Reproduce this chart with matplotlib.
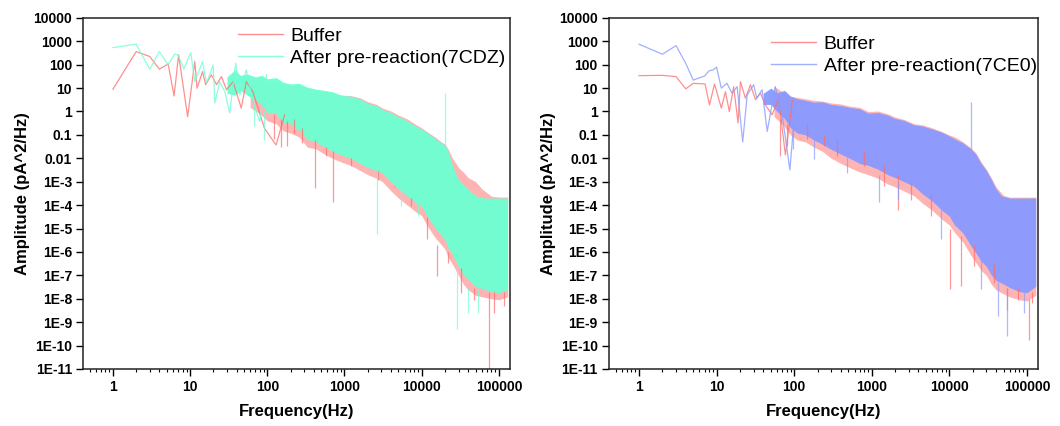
import matplotlib.pyplot as plt
from matplotlib.ticker import LogLocator, NullFormatter, FixedLocator, FixedFormatter

plt.rcParams['font.family'] = ['Liberation Sans', 'DejaVu Sans']

# ---------------- left panel : Buffer vs 7CDZ ----------------
# low frequency part, drawn as lines
buf1_line_f = [1, 2, 3, 4, 5.2, 6.2, 7.1, 9.3, 11.5, 12.3, 14.5, 15.9, 18.9, 22, 25.5,
               29.6, 36, 46, 53.5, 65, 92, 130, 168]
buf1_line_v = [8.9, 363, 224, 64, 108, 4.6, 263, 0.6, 136, 9.9, 51, 13.9, 37, 14, 31,
               8.5, 19, 1.4, 19, 7, 0.19, 0.037, 0.72]
cdz_line_f = [1, 2, 3, 4, 5.2, 6.3, 7, 8.3, 10.2, 11.5, 14.5, 16.3, 19.9, 20.9, 24.2,
              28.2, 32.6, 39, 44, 53.5, 65, 80, 98]
cdz_line_v = [537, 755, 64, 363, 98, 280, 260, 64, 330, 19, 136, 16, 98, 2.3, 19,
              7, 0.87, 117, 5.1, 60, 2.7, 0.37, 37]

# dense noise band (upper / lower envelope)
buf1_band_f = [60, 80, 100, 130, 160, 200, 260, 330, 430, 550, 700, 900, 1200, 1600, 2000,
               2600, 3100, 4000, 5000, 6500, 8500, 10000, 12000, 15000, 18000, 20000, 22000,
               25000, 30000, 35000, 40000, 50000, 60000, 80000, 100000, 130000]
buf1_band_hi = [25, 22, 18, 20, 14, 12, 13, 9.5, 8, 7, 6, 5, 4.8, 3.8, 2.6,
                2.0, 1.4, 1.05, 0.7, 0.48, 0.27, 0.2, 0.13, 0.08, 0.05, 0.04, 0.025,
                0.01, 4e-3, 2.5e-3, 1.5e-3, 1e-3, 5e-4, 2.4e-4, 2.2e-4, 2.2e-4]
buf1_band_lo = [1.5, 0.8, 0.4, 0.3, 0.15, 0.12, 0.08, 0.03, 0.025, 0.015, 0.01, 7e-3, 5e-3, 3e-3, 2e-3,
                1.4e-3, 1e-3, 4e-4, 2e-4, 1e-4, 5e-5, 3.5e-5, 1.2e-5, 4e-6, 2e-6, 1.3e-6, 6e-7,
                3e-7, 1e-7, 4e-8, 2.4e-8, 1.4e-8, 1.2e-8, 1e-8, 9e-9, 1.2e-8]

cdz_band_f = [30, 38, 45, 55, 70, 85, 100, 130, 160, 200, 260, 330, 430, 550, 700, 900, 1200,
              1600, 2000, 2600, 3100, 4000, 5000, 6500, 8500, 10000, 12000, 15000, 18000,
              20000, 22000, 25000, 30000, 35000, 41000, 50000, 65000, 80000, 100000, 130000]
cdz_band_hi = [30, 60, 35, 40, 30, 35, 25, 28, 18, 15, 16, 11, 9, 8, 7, 5, 4.5,
               3.5, 2.2, 1.8, 1.2, 0.9, 0.6, 0.4, 0.23, 0.18, 0.12, 0.07, 0.045,
               0.035, 0.02, 5e-3, 1.2e-3, 7e-4, 4.5e-4, 2.5e-4, 2e-4, 2e-4, 2e-4, 2e-4]
cdz_band_lo = [6, 5, 8, 5, 3, 2, 0.9, 0.8, 0.35, 0.3, 0.15, 0.064, 0.05, 0.03, 0.02, 0.014, 0.01,
               6e-3, 4e-3, 3e-3, 2.4e-3, 1e-3, 5e-4, 2.5e-4, 1.2e-4, 9e-5, 3e-5, 1e-5, 5e-6,
               3.4e-6, 1.5e-6, 8e-7, 2.4e-7, 1e-7, 6e-8, 3.4e-8, 2.5e-8, 2e-8, 1.8e-8, 2.5e-8]

# isolated spikes: frequency, top, bottom
buf1_spk_f = [122, 150, 181, 220, 280, 420, 570, 720, 1200, 1800, 2700, 4400, 7200,
              11800, 16000, 21600, 32000, 48000, 74000, 87000, 117000]
buf1_spk_hi = [0.8, 0.5, 0.4, 0.5, 0.2, 0.06, 0.03, 0.02, 0.01, 6e-3, 3e-3, 6e-4, 2e-4,
               3e-5, 2e-6, 1e-6, 2e-7, 3e-8, 2e-8, 2e-8, 2e-8]
buf1_spk_lo = [0.064, 0.03, 0.033, 0.12, 0.046, 5.4e-4, 0.012, 1.4e-4, 4.6e-3, 6.4e-3, 1.2e-3,
               6.4e-4, 9e-5, 3.4e-6, 9e-8, 3.4e-7, 1.8e-8, 9e-9, 1e-12, 2.5e-9, 5e-9]
cdz_spk_f = [67, 90, 2600, 5400, 8900, 20000, 28700, 40000, 53000]
cdz_spk_hi = [2, 1, 3e-3, 5e-4, 1.2e-4, 6.3, 2e-7, 3e-8, 3e-8]
cdz_spk_lo = [0.24, 0.06, 6e-6, 9e-5, 3.4e-5, 0.02, 5e-10, 2.5e-9, 2.5e-9]

# ---------------- right panel : Buffer vs 7CE0 ----------------
buf2_line_f = [1, 2, 3, 4, 5, 7.1, 8.1, 9.4, 11.5, 13, 14.6, 16.6, 18.9, 20.3, 23.5,
               27.3, 31.7, 36.7, 42.6, 52, 63, 77, 95]
buf2_line_v = [34, 35, 31, 9.3, 16, 15, 1.9, 15, 1.4, 7, 1.0, 11.5, 0.32, 19, 3.7,
               13.9, 3.2, 6.1, 1.9, 0.72, 3.7, 0.014, 3]
ce0_line_f = [1, 2, 3, 4, 5, 7, 8, 9, 10, 11.5, 13.6, 15.8, 18.4, 21.7, 24.8,
              30, 33, 38.6, 44.9, 57, 70, 88, 104]
ce0_line_v = [750, 280, 650, 115, 22, 33, 55, 60, 78, 10, 16, 6, 11.6, 0.05, 5.1,
              13.9, 3.7, 8.5, 0.14, 11.6, 0.72, 3.2e-3, 2.3]

buf2_band_f = [55, 70, 90, 110, 140, 180, 230, 300, 400, 520, 700, 900, 1200, 1600, 2000,
               2600, 3500, 4500, 6000, 8000, 10000, 12000, 15000, 19000, 22000, 25700, 30000,
               35000, 40000, 50000, 60000, 80000, 100000, 130000]
buf2_band_hi = [12, 7, 4.5, 4, 3.5, 3, 2.8, 2.3, 2.1, 1.7, 1.5, 1.0, 1.05, 0.8, 0.58,
                0.46, 0.3, 0.27, 0.2, 0.14, 0.1, 0.08, 0.05, 0.028, 0.017, 7e-3, 3.4e-3,
                1.4e-3, 6e-4, 2.6e-4, 2.2e-4, 2.2e-4, 2.2e-4, 2.2e-4]
buf2_band_lo = [0.6, 0.3, 0.1, 0.06, 0.05, 0.03, 0.02, 0.01, 6e-3, 4e-3, 2.6e-3, 2e-3, 1.4e-3, 8e-4, 6e-4,
                4e-4, 2.5e-4, 1.2e-4, 6e-5, 2.5e-5, 1.4e-5, 6e-6, 2.6e-6, 7e-7, 3.5e-7, 1.6e-7, 1e-7,
                4e-8, 2.4e-8, 1.6e-8, 1.2e-8, 9e-9, 8e-9, 1.4e-8]

ce0_band_f = [40, 50, 60, 75, 90, 110, 140, 180, 230, 300, 400, 520, 700, 900, 1200, 1600,
              2000, 2600, 3500, 4500, 6000, 8000, 10000, 11500, 15000, 19000, 22000, 25700,
              30000, 35000, 40000, 47000, 60000, 80000, 100000, 130000]
ce0_band_hi = [6, 10, 6.3, 8, 4.5, 3.5, 3, 2.5, 2.6, 2, 1.8, 1.5, 1.3, 0.85, 0.9, 0.7,
               0.5, 0.42, 0.27, 0.24, 0.18, 0.13, 0.09, 0.07, 0.045, 0.025, 0.015, 6e-3,
               3e-3, 1.2e-3, 5e-4, 2.5e-4, 2e-4, 2e-4, 2e-4, 2e-4]
ce0_band_lo = [2, 2, 1, 0.5, 0.2, 0.12, 0.1, 0.06, 0.04, 0.024, 0.015, 0.01, 6e-3, 5e-3, 3.4e-3, 2e-3,
               1.5e-3, 1e-3, 6.4e-4, 3e-4, 1.5e-4, 6e-5, 3.4e-5, 1.5e-5, 6.4e-6, 1.8e-6, 9e-7, 4e-7,
               2.4e-7, 1e-7, 6e-8, 4.7e-8, 3e-8, 2e-8, 1.8e-8, 3.4e-8]

buf2_spk_f = [66, 81, 147, 240, 360, 800, 1440, 2150, 3200, 5800, 10300, 14300, 21000,
              38000, 56000, 77000, 105000, 117000]
buf2_spk_hi = [0.5, 0.3, 0.3, 0.1, 0.06, 0.02, 5e-3, 2e-3, 1e-3, 3e-4, 1e-5, 5e-6, 2e-6,
               3e-7, 3e-8, 3e-8, 1e-8, 2e-8]
buf2_spk_lo = [0.012, 0.033, 0.064, 0.033, 0.012, 4.6e-3, 6.4e-4, 6.4e-5, 1.7e-4, 3.4e-5, 2.5e-8,
               3.4e-8, 2.4e-7, 4.7e-8, 3.4e-9, 9e-9, 1.8e-10, 6.6e-9]
ce0_spk_f = [98, 180, 480, 1240, 2150, 7700, 19000, 25700, 43000, 56000, 93000]
ce0_spk_hi = [0.3, 0.1, 0.02, 2e-3, 1e-3, 6e-5, 2.5, 5e-7, 5e-8, 3e-8, 2e-8]
ce0_spk_lo = [0.024, 8.9e-3, 2.4e-3, 1.4e-4, 1.7e-4, 3.4e-6, 0.02, 2.5e-8, 1.8e-9, 2.5e-10, 2.5e-9]

ytick_vals = [1e4, 1e3, 1e2, 1e1, 1, 0.1, 0.01, 1e-3, 1e-4, 1e-5, 1e-6, 1e-7, 1e-8, 1e-9, 1e-10, 1e-11]
ytick_labels = ['10000', '1000', '100', '10', '1', '0.1', '0.01', '1E-3', '1E-4', '1E-5',
                '1E-6', '1E-7', '1E-8', '1E-9', '1E-10', '1E-11']
xtick_vals = [1, 10, 100, 1000, 10000, 100000]
xtick_labels = ['1', '10', '100', '1000', '10000', '100000']

RED = '#FF6A6A'


def draw_panel(ax, buf, smp, smp_color, smp_label, leg_xy):
    bf, bv, bbf, bhi, blo, bsf, bshi, bslo = buf
    sf, sv, sbf, shi, slo, ssf, sshi, sslo = smp

    # buffer (behind)
    ax.fill_between(bbf, blo, bhi, color=RED, alpha=0.5, lw=0)
    lb, = ax.plot(bf, bv, color=RED, lw=0.9, alpha=0.75, label='Buffer')
    ax.vlines(bsf, bslo, bshi, color=RED, lw=0.9, alpha=0.7)

    # sample on top
    ax.fill_between(sbf, slo, shi, color=smp_color, alpha=0.97, lw=0)
    ls, = ax.plot(sf, sv, color=smp_color, lw=0.9, alpha=0.8, label=smp_label)
    ax.vlines(ssf, sslo, sshi, color=smp_color, lw=0.9, alpha=0.7)

    ax.set_xscale('log')
    ax.set_yscale('log')
    ax.set_xlim(0.41, 1.4e5)
    ax.set_ylim(1e-11, 1e4)

    ax.xaxis.set_major_locator(FixedLocator(xtick_vals))
    ax.xaxis.set_major_formatter(FixedFormatter(xtick_labels))
    ax.xaxis.set_minor_locator(LogLocator(base=10, subs=range(2, 10), numticks=20))
    ax.xaxis.set_minor_formatter(NullFormatter())
    ax.yaxis.set_major_locator(FixedLocator(ytick_vals))
    ax.yaxis.set_major_formatter(FixedFormatter(ytick_labels))
    ax.yaxis.set_minor_locator(FixedLocator([]))

    ax.tick_params(which='major', direction='out', length=5, width=1, labelsize=10,
                   top=False, right=False, pad=3)
    ax.tick_params(which='minor', direction='out', length=2.5, width=0.8, top=False, right=False)
    for t in ax.get_xticklabels() + ax.get_yticklabels():
        t.set_fontweight('bold')
    for sp in ax.spines.values():
        sp.set_linewidth(1.1)
        sp.set_color('#222222')

    ax.set_xlabel('Frequency(Hz)', fontsize=12, fontweight='bold', labelpad=7)
    ax.set_ylabel('Amplitude (pA^2/Hz)', fontsize=12, fontweight='bold', labelpad=2)

    leg = ax.legend(handles=[lb, ls], loc='upper left', bbox_to_anchor=leg_xy,
                    frameon=False, fontsize=14, handlelength=2.3, handletextpad=0.4,
                    labelspacing=0.2, borderaxespad=0.1)
    for h in leg.get_lines():
        h.set_linewidth(1.0)


fig = plt.figure(figsize=(10.6, 4.26), dpi=100)
ax1 = fig.add_axes([0.0783, 0.134, 0.403, 0.824])
ax2 = fig.add_axes([0.5745, 0.134, 0.405, 0.824])

draw_panel(ax1,
           (buf1_line_f, buf1_line_v, buf1_band_f, buf1_band_hi, buf1_band_lo,
            buf1_spk_f, buf1_spk_hi, buf1_spk_lo),
           (cdz_line_f, cdz_line_v, cdz_band_f, cdz_band_hi, cdz_band_lo,
            cdz_spk_f, cdz_spk_hi, cdz_spk_lo),
           '#6EFFD2', 'After pre-reaction(7CDZ)', (0.34, 1.0))
draw_panel(ax2,
           (buf2_line_f, buf2_line_v, buf2_band_f, buf2_band_hi, buf2_band_lo,
            buf2_spk_f, buf2_spk_hi, buf2_spk_lo),
           (ce0_line_f, ce0_line_v, ce0_band_f, ce0_band_hi, ce0_band_lo,
            ce0_spk_f, ce0_spk_hi, ce0_spk_lo),
           '#8A9BFF', 'After pre-reaction(7CE0)', (0.355, 0.977))

fig.savefig('out.png', dpi=100)
